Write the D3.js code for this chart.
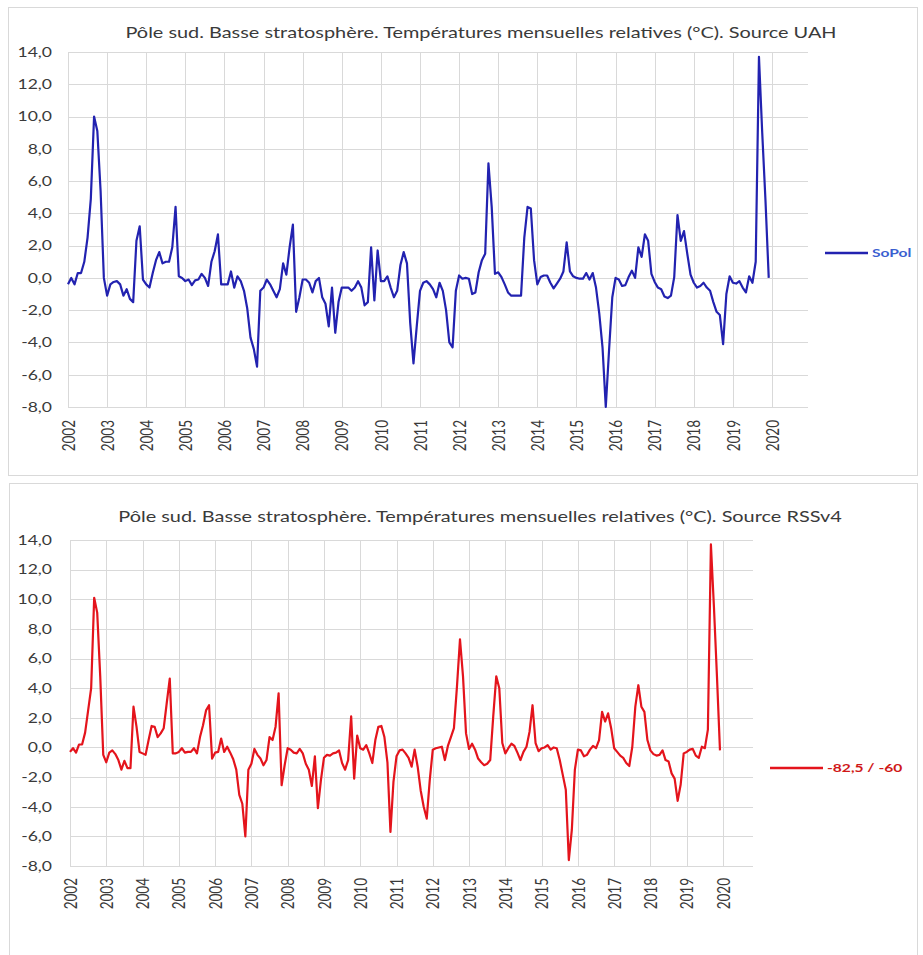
<!DOCTYPE html>
<html>
<head>
<meta charset="utf-8">
<script src="https://cdn.jsdelivr.net/npm/d3@7"></script>
<style>
  html, body { margin: 0; padding: 0; background: #fff; }
  svg { display: block; }
</style>
</head>
<body>
<script>
// monthly values, Jan 2002 .. Dec 2019, one row per year
const uahSoPol = [
  -0.4, 0.0, -0.4, 0.3, 0.3, 1.0, 2.5, 4.9, 10.0, 9.1, 5.4, 0.0,
  -1.1, -0.4, -0.25, -0.2, -0.4, -1.1, -0.7, -1.3, -1.5, 2.3, 3.2, -0.1,
  -0.4, -0.6, 0.3, 1.1, 1.6, 0.9, 1.0, 1.0, 1.9, 4.4, 0.1, 0.0,
  -0.2, -0.1, -0.45, -0.15, -0.1, 0.25, 0.0, -0.5, 1.0, 1.65, 2.7, -0.4,
  -0.4, -0.4, 0.4, -0.6, 0.1, -0.2, -0.8, -1.9, -3.7, -4.4, -5.5, -0.8,
  -0.6, -0.1, -0.4, -0.8, -1.2, -0.7, 0.9, 0.2, 1.9, 3.3, -2.1, -1.2,
  -0.1, -0.1, -0.3, -0.9, -0.2, 0.0, -1.2, -1.6, -3.0, -0.6, -3.4, -1.5,
  -0.6, -0.6, -0.6, -0.8, -0.6, -0.2, -0.6, -1.7, -1.5, 1.9, -1.4, 1.7,
  -0.2, -0.2, 0.1, -0.6, -1.2, -0.8, 0.8, 1.6, 0.9, -2.8, -5.3, -3.0,
  -0.8, -0.3, -0.2, -0.4, -0.7, -1.2, -0.3, -0.8, -2.0, -4.0, -4.3, -0.8,
  0.15, -0.05, 0.0, -0.05, -1.0, -0.9, 0.35, 1.1, 1.5, 7.1, 4.4, 0.25,
  0.35, 0.05, -0.4, -0.9, -1.1, -1.1, -1.1, -1.1, 2.5, 4.4, 4.3, 1.1,
  -0.4, 0.05, 0.15, 0.15, -0.3, -0.65, -0.35, -0.05, 0.4, 2.2, 0.4, 0.1,
  0.0, -0.05, -0.05, 0.3, -0.1, 0.3, -0.6, -2.2, -4.3, -8.0, -4.5, -1.2,
  0.0, -0.1, -0.5, -0.45, 0.05, 0.45, 0.0, 1.9, 1.3, 2.7, 2.3, 0.25,
  -0.25, -0.6, -0.7, -1.15, -1.25, -1.1, 0.05, 3.9, 2.3, 2.9, 1.5, 0.2,
  -0.3, -0.6, -0.5, -0.3, -0.6, -0.8, -1.5, -2.1, -2.3, -4.1, -1.0, 0.1,
  -0.3, -0.35, -0.2, -0.6, -0.9, 0.1, -0.3, 1.0, 13.7, 9.0, 4.8, 0.0
];

const rssV4 = [
  -0.3, -0.05, -0.35, 0.2, 0.2, 1.0, 2.5, 4.0, 10.1, 9.1, 4.8, -0.5,
  -1.0, -0.35, -0.2, -0.45, -0.85, -1.5, -0.9, -1.4, -1.4, 2.75, 1.4, -0.3,
  -0.4, -0.5, 0.5, 1.45, 1.4, 0.7, 0.95, 1.3, 3.0, 4.65, -0.4, -0.4,
  -0.3, -0.05, -0.35, -0.3, -0.3, -0.05, -0.4, 0.7, 1.5, 2.5, 2.85, -0.75,
  -0.35, -0.3, 0.6, -0.3, 0.05, -0.35, -0.8, -1.5, -3.2, -3.8, -6.0, -1.5,
  -1.1, -0.1, -0.5, -0.75, -1.2, -0.85, 0.7, 0.5, 1.4, 3.65, -2.55, -1.2,
  -0.05, -0.15, -0.35, -0.4, -0.1, -0.4, -1.1, -1.5, -2.6, -0.6, -4.1, -2.2,
  -0.7, -0.5, -0.55, -0.4, -0.35, -0.2, -1.05, -1.5, -0.85, 2.1, -2.1, 0.8,
  -0.05, -0.15, 0.15, -0.4, -1.05, 0.5, 1.4, 1.45, 0.7, -1.0, -5.7, -2.3,
  -0.6, -0.2, -0.15, -0.4, -0.7, -1.3, -0.15, -1.3, -2.9, -4.0, -4.8, -2.2,
  -0.15, -0.05, 0.0, 0.05, -0.85, 0.1, 0.7, 1.3, 4.1, 7.3, 4.8, 0.95,
  -0.1, 0.25, -0.15, -0.75, -1.0, -1.2, -1.1, -0.85, 2.1, 4.8, 4.0, 0.3,
  -0.4, -0.05, 0.25, 0.1, -0.35, -0.85, -0.3, 0.05, 1.05, 2.85, 0.3, -0.25,
  -0.05, 0.0, 0.15, -0.15, 0.0, -0.05, -0.85, -1.85, -2.85, -7.6, -5.55, -1.5,
  -0.15, -0.2, -0.6, -0.5, -0.15, 0.1, -0.05, 0.5, 2.4, 1.75, 2.3, 1.3,
  -0.05, -0.3, -0.55, -0.7, -1.05, -1.25, 0.05, 2.75, 4.2, 2.75, 2.4, 0.5,
  -0.2, -0.45, -0.55, -0.5, -0.2, -0.85, -0.95, -1.75, -2.1, -3.6, -2.5, -0.4,
  -0.3, -0.15, -0.1, -0.55, -0.7, 0.05, -0.05, 1.2, 13.7, 9.5, 4.8, -0.2
];

const startYear = 2002;
const yearTicks = [2002, 2003, 2004, 2005, 2006, 2007, 2008, 2009, 2010, 2011,
                   2012, 2013, 2014, 2015, 2016, 2017, 2018, 2019, 2020];
const valueTicks = [14, 12, 10, 8, 6, 4, 2, 0, -2, -4, -6, -8];

const titles = [
  "Pôle sud. Basse stratosphère. Températures mensuelles relatives (°C). Source UAH",
  "Pôle sud. Basse stratosphère. Températures mensuelles relatives (°C). Source RSSv4"
];
const legendNames = ["SoPol", "-82,5 / -60"];

// the picture is stretched sideways, so the text is too
const SX = 1.3;
const FONT = "Lato, 'Open Sans', sans-serif";
const gridColor = "#d9d9d9";
const textColor = "#3a3a3a";

const fr = d3.formatLocale({ decimal: ",", thousands: " ", grouping: [3], currency: ["", "€"], minus: "-" });
const fmt = fr.format(".1f");

const svg = d3.select("body").append("svg")
  .attr("width", 923)
  .attr("height", 955);

function drawPanel(p) {
  const g = svg.append("g");

  // chart frame
  g.append("rect")
    .attr("x", p.box[0] + 0.5).attr("y", p.box[1] + 0.5)
    .attr("width", p.box[2]).attr("height", p.box[3])
    .attr("fill", "#fff").attr("stroke", gridColor);

  const x = d3.scaleLinear().domain([2002, 2020]).range([p.x0, p.x1]);
  const y = d3.scaleLinear().domain([-8, 14]).range([p.yBottom, p.yTop]);

  // horizontal grid
  g.append("g").selectAll("line")
    .data(valueTicks)
    .join("line")
    .attr("x1", p.x0).attr("x2", p.xRight)
    .attr("y1", d => Math.round(y(d)) + 0.5).attr("y2", d => Math.round(y(d)) + 0.5)
    .attr("stroke", gridColor).attr("stroke-width", 1);

  // vertical grid, one per year
  g.append("g").selectAll("line")
    .data(yearTicks)
    .join("line")
    .attr("x1", d => Math.round(x(d)) + 0.5).attr("x2", d => Math.round(x(d)) + 0.5)
    .attr("y1", p.yTop).attr("y2", p.yBottom)
    .attr("stroke", gridColor).attr("stroke-width", 1);

  // y axis labels
  const yAxis = g.append("g")
    .attr("transform", `translate(${p.x0},0)`)
    .call(d3.axisLeft(y).tickValues(valueTicks).tickSize(0).tickFormat(fmt));
  yAxis.select(".domain").remove();
  yAxis.selectAll("text")
    .attr("x", -p.yPad / SX)
    .attr("transform", `scale(${SX},1)`)
    .style("font-family", FONT).style("font-size", "13.5px").style("fill", textColor);

  // x axis labels, rotated
  const xAxis = g.append("g")
    .attr("transform", `translate(0,${p.yBottom})`)
    .call(d3.axisBottom(x).tickValues(yearTicks).tickSize(0).tickFormat(d3.format("d")));
  xAxis.select(".domain").remove();
  xAxis.selectAll("text")
    .attr("x", -p.xPad).attr("y", 0).attr("dy", "0.35em")
    .attr("text-anchor", "end")
    .attr("transform", `scale(${SX},1) rotate(-90)`)
    .style("font-family", FONT).style("font-size", "13.5px").style("fill", textColor);

  // the series
  const line = d3.line()
    .x((d, i) => x(startYear + i / 12))
    .y(d => y(d));
  g.append("path")
    .datum(p.values)
    .attr("d", line)
    .attr("fill", "none")
    .attr("stroke", p.color)
    .attr("stroke-width", 2.2)
    .attr("stroke-linejoin", "round");

  // title
  g.append("text")
    .attr("transform", `translate(${p.titleX},${p.titleY}) scale(${SX},1)`)
    .attr("text-anchor", "middle")
    .style("font-family", FONT).style("font-size", "15.3px").style("fill", textColor)
    .text(p.title);

  // legend
  g.append("line")
    .attr("x1", p.legend[0]).attr("x2", p.legend[1])
    .attr("y1", p.legend[2]).attr("y2", p.legend[2])
    .attr("stroke", p.color).attr("stroke-width", 2.5);
  g.append("text")
    .attr("transform", `translate(${p.legend[1] + 4},${p.legend[2]}) scale(${SX},1)`)
    .attr("dy", "0.35em")
    .style("font-family", FONT).style("font-size", "12px").style("font-weight", "bold")
    .style("fill", p.legendColor)
    .text(p.name);
}

drawPanel({
  values: uahSoPol, title: titles[0], name: legendNames[0],
  color: "#2222b0", legendColor: "#3a5fd0",
  box: [8, 7, 909, 468],
  x0: 68, x1: 772, xRight: 808, yTop: 52, yBottom: 407,
  yPad: 16, xPad: 13,
  titleX: 481, titleY: 38,
  legend: [825, 868, 253]
});

drawPanel({
  values: rssV4, title: titles[1], name: legendNames[1],
  color: "#e4141c", legendColor: "#d01818",
  box: [9, 483, 908, 490],
  x0: 70, x1: 723, xRight: 753, yTop: 540, yBottom: 866,
  yPad: 18, xPad: 12,
  titleX: 480, titleY: 522,
  legend: [770, 823, 768]
});
</script>
</body>
</html>
